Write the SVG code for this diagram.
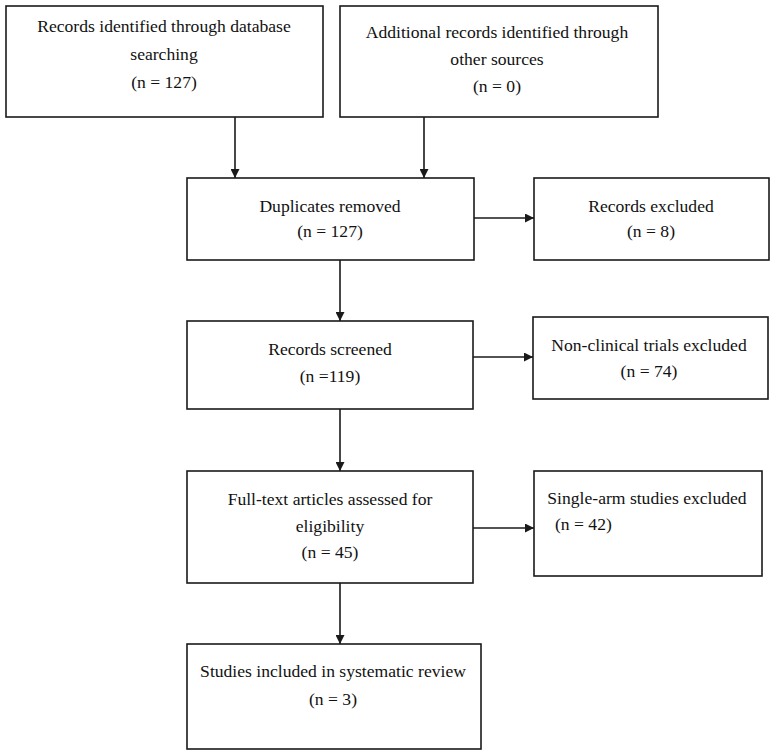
<svg xmlns="http://www.w3.org/2000/svg" width="776" height="754" viewBox="0 0 776 754">
<style>
  .box { fill: #ffffff; stroke: #1a1a1a; stroke-width: 1.6; }
  .t { font-family: "Liberation Serif", "Times New Roman", serif; font-size: 17.6px; fill: #111111; text-anchor: middle; }
  .tl { text-anchor: start; }
  .conn { stroke: #1a1a1a; stroke-width: 1.6; fill: none; marker-end: url(#arrow); }
</style>
<defs>
  <marker id="arrow" markerUnits="userSpaceOnUse" markerWidth="9" markerHeight="9" refX="9" refY="4.5" orient="auto">
    <path d="M0,0 L9,4.5 L0,9 z" fill="#1a1a1a"/>
  </marker>
</defs>
<rect width="776" height="754" fill="#ffffff"/>
<g id="connectors">
  <line class="conn" x1="235" y1="117" x2="235" y2="178"/>
  <line class="conn" x1="424" y1="117" x2="424" y2="178"/>
  <line class="conn" x1="474" y1="218" x2="534" y2="218"/>
  <line class="conn" x1="340" y1="260" x2="340" y2="321"/>
  <line class="conn" x1="473" y1="357" x2="533" y2="357"/>
  <line class="conn" x1="340" y1="409" x2="340" y2="471"/>
  <line class="conn" x1="473" y1="528" x2="534" y2="528"/>
  <line class="conn" x1="340" y1="583" x2="340" y2="644"/>
</g>
<g id="db-search">
  <rect class="box" x="6" y="6" width="317" height="111"/>
  <text class="t" x="164" y="32">Records identified through database</text>
  <text class="t" x="164" y="60">searching</text>
  <text class="t" x="164" y="88">(n = 127)</text>
</g>
<g id="other-sources">
  <rect class="box" x="340" y="6" width="318" height="111"/>
  <text class="t" x="497" y="38">Additional records identified through</text>
  <text class="t" x="497" y="65">other sources</text>
  <text class="t" x="497" y="92">(n = 0)</text>
</g>
<g id="duplicates">
  <rect class="box" x="187" y="178" width="287" height="82"/>
  <text class="t" x="330" y="212">Duplicates removed</text>
  <text class="t" x="330" y="237">(n = 127)</text>
</g>
<g id="records-excluded">
  <rect class="box" x="534" y="178" width="235" height="82"/>
  <text class="t" x="651" y="212">Records excluded</text>
  <text class="t" x="651" y="237">(n = 8)</text>
</g>
<g id="screened">
  <rect class="box" x="187" y="321" width="286" height="88"/>
  <text class="t" x="330" y="355">Records screened</text>
  <text class="t" x="330" y="382">(n =119)</text>
</g>
<g id="non-clinical">
  <rect class="box" x="533" y="317" width="235" height="82"/>
  <text class="t" x="649" y="351">Non-clinical trials excluded</text>
  <text class="t" x="649" y="377">(n = 74)</text>
</g>
<g id="full-text">
  <rect class="box" x="187" y="471" width="286" height="112"/>
  <text class="t" x="330" y="505">Full-text articles assessed for</text>
  <text class="t" x="330" y="532">eligibility</text>
  <text class="t" x="330" y="558">(n = 45)</text>
</g>
<g id="single-arm">
  <rect class="box" x="534" y="471" width="228" height="105"/>
  <text class="t" x="647" y="504">Single-arm studies excluded</text>
  <text class="t tl" x="555" y="530">(n = 42)</text>
</g>
<g id="included">
  <rect class="box" x="187" y="644" width="294" height="105"/>
  <text class="t" x="333" y="677">Studies included in systematic review</text>
  <text class="t" x="333" y="705">(n = 3)</text>
</g>
</svg>
